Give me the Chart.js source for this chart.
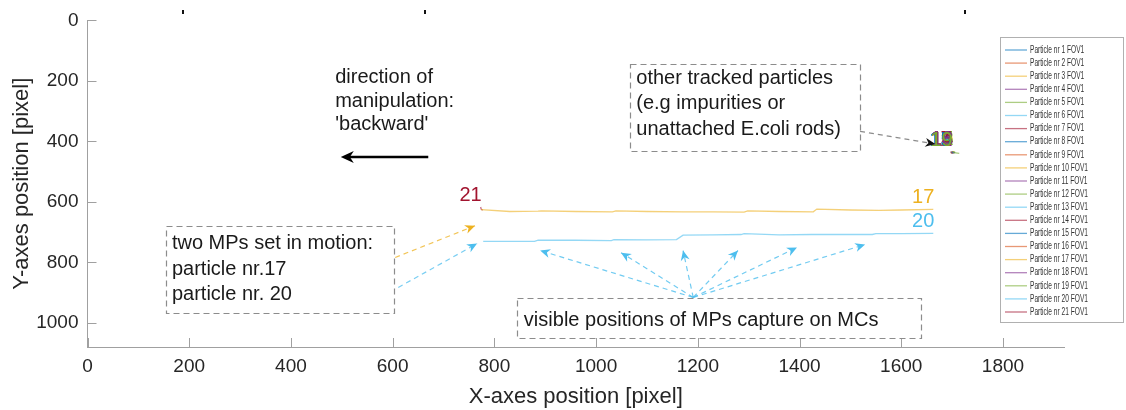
<!DOCTYPE html>
<html>
<head>
  <title>Particle tracks FOV1</title>
  <script src="https://cdn.jsdelivr.net/npm/chart.js"></script>
  <style>
    html, body { margin: 0; padding: 0; background: #fff; }
  </style>
</head>
<body>
<canvas id="myChart" width="1126" height="410"></canvas>
<script>
// tracks, in time order (the MPs move 'backward', i.e. to the left)
var p17X = [1663, 1600, 1556, 1500, 1434, 1427, 1360, 1298, 1291, 1230, 1171, 1100, 1039, 1032, 960, 893, 886, 830, 774];
var p17Y = [625, 627, 628, 627, 624, 633, 632, 630, 634, 633, 633, 632, 630, 633, 632, 630, 631, 632, 626];
var p20X = [1663, 1600, 1550, 1543, 1480, 1424, 1360, 1291, 1285, 1230, 1171, 1158, 1100, 1035, 1030, 960, 886, 879, 830, 778];
var p20Y = [704, 705, 705, 708, 708, 708, 709, 705, 708, 709, 710, 725, 726, 725, 728, 727, 727, 731, 731, 731];
var p21X = [773, 774, 777];
var p21Y = [617, 624, 628];

// other tracked particles (impurities), all near x=1700, y=436
var clusterIds    = [1, 2, 3, 4, 5, 6, 7, 8, 9, 10, 11, 12, 13, 14, 15, 16, 18, 19];
var clusterStartX = [1699, 1697, 1700, 1698, 1701, 1699, 1697, 1700, 1698, 1700, 1699, 1701, 1698, 1700, 1697, 1699, 1700, 1699];
var clusterStartY = [435, 437, 434, 436, 435, 438, 434, 436, 437, 435, 436, 434, 437, 435, 436, 438, 435, 436];
var clusterEndX   = [1703, 1700, 1704, 1702, 1706, 1701, 1700, 1705, 1701, 1703, 1702, 1706, 1700, 1704, 1701, 1703, 1705, 1714];
var clusterEndY   = [437, 438, 436, 438, 437, 439, 436, 438, 439, 437, 438, 436, 439, 437, 438, 440, 437, 440];

// stray marks above the image frame
var strayX = [188, 664, 1726];
var strayY = [-28, -28, -28];

var xTicks = [0, 200, 400, 600, 800, 1000, 1200, 1400, 1600, 1800];
var yTicks = [0, 200, 400, 600, 800, 1000];

var matlabColors = ['#0072BD', '#D95319', '#EDB120', '#7E2F8E', '#77AC30', '#4DBEEE', '#A2142F'];
var FONT = "'Liberation Sans', Arial, sans-serif";

function hexA(hex, a) {
  var n = parseInt(hex.slice(1), 16);
  return 'rgba(' + (n >> 16) + ',' + ((n >> 8) & 255) + ',' + (n & 255) + ',' + a + ')';
}
function pts(xs, ys) {
  return xs.map(function(x, i) { return {x: x, y: ys[i]}; });
}

// build 21 datasets
var datasets = [];
for (var id = 1; id <= 21; id++) {
  var data;
  if (id === 17) data = pts(p17X, p17Y);
  else if (id === 20) data = pts(p20X, p20Y);
  else if (id === 21) data = pts(p21X, p21Y);
  else {
    var k = clusterIds.indexOf(id);
    data = [{x: clusterStartX[k], y: clusterStartY[k]}, {x: clusterEndX[k], y: clusterEndY[k]}];
  }
  var c = matlabColors[(id - 1) % 7];
  datasets.push({
    label: 'Particle nr ' + id + ' FOV1',
    particle: id,
    data: data,
    showLine: true,
    borderColor: hexA(c, 0.6),
    baseColor: c,
    borderWidth: 1.3,
    pointRadius: 0,
    tension: 0
  });
}

// annotations (data coordinates)
var notes = {
  direction: {x: 487, y: 190, lh: 23.5, lines: ['direction of', 'manipulation:', "'backward'"]},
  dirArrow: {x1: 670, x2: 498, y: 452},
  otherBox: {x1: 1067, y1: 143, x2: 1519, y2: 432, tx: 1079, ty: 192, lh: 25.5,
    lines: ['other tracked particles', '(e.g impurities or', 'unattached E.coli rods)']},
  otherArrow: {x1: 1519, y1: 367, x2: 1667, y2: 409},
  motionBox: {x1: 154, y1: 679, x2: 603, y2: 968, tx: 166, ty: 738, lh: 25.5,
    lines: ['two MPs set in motion:', 'particle nr.17', 'particle nr. 20']},
  motionArrows: [
    {x1: 605, y1: 784, x2: 762, y2: 679, color: '#EDB120'},
    {x1: 611, y1: 883, x2: 766, y2: 738, color: '#4DBEEE'}
  ],
  captureBox: {x1: 845, y1: 919, x2: 1639, y2: 1050, tx: 858, ty: 991, lh: 0,
    lines: ['visible positions of MPs capture on MCs']},
  fanFrom: {x: 1191, y: 916},
  fanTo: [[890, 761], [1049, 768], [1171, 761], [1279, 761], [1395, 751], [1529, 741]]
};

function arrowHead(ctx, x1, y1, x2, y2, color, len, half) {
  var ang = Math.atan2(y2 - y1, x2 - x1);
  ctx.save();
  ctx.translate(x2, y2);
  ctx.rotate(ang);
  ctx.setLineDash([]);
  ctx.fillStyle = color;
  ctx.beginPath();
  ctx.moveTo(0, 0);
  ctx.lineTo(-len, -half);
  ctx.lineTo(-len * 0.7, 0);
  ctx.lineTo(-len, half);
  ctx.closePath();
  ctx.fill();
  ctx.restore();
}

function dashedArrow(ctx, x1, y1, x2, y2, lineColor, headColor) {
  ctx.save();
  ctx.strokeStyle = lineColor;
  ctx.lineWidth = 1.2;
  ctx.setLineDash([5, 4]);
  ctx.beginPath();
  ctx.moveTo(x1, y1);
  ctx.lineTo(x2, y2);
  ctx.stroke();
  ctx.restore();
  arrowHead(ctx, x1, y1, x2, y2, headColor, 10, 4.5);
}

var overlay = {
  id: 'overlay',
  afterDraw: function(chart) {
    var ctx = chart.ctx, xs = chart.scales.x, ys = chart.scales.y, a = chart.chartArea;
    var X = function(v) { return xs.getPixelForValue(v); };
    var Y = function(v) { return ys.getPixelForValue(v); };
    ctx.save();

    // inward tick marks
    ctx.strokeStyle = '#a0a0a0';
    ctx.lineWidth = 1;
    ctx.beginPath();
    xs.ticks.forEach(function(t) {
      var x = Math.round(X(t.value)) + 0.5;
      ctx.moveTo(x, a.bottom); ctx.lineTo(x, a.bottom - 9);
    });
    ys.ticks.forEach(function(t) {
      var y = Math.round(Y(t.value)) + 0.5;
      ctx.moveTo(a.left, y); ctx.lineTo(a.left + 9, y);
    });
    ctx.stroke();

    // stray marks
    ctx.fillStyle = '#111';
    strayX.forEach(function(v, i) {
      ctx.fillRect(Math.round(X(v)) - 1, Math.round(Y(strayY[i])) - 2, 2, 4);
    });

    // particle numbers at first point of each track
    ctx.font = '20px ' + FONT;
    ctx.textAlign = 'right';
    ctx.textBaseline = 'middle';
    chart.data.datasets.forEach(function(ds) {
      var p = ds.data[0];
      ctx.fillStyle = ds.baseColor;
      ctx.fillText(String(ds.particle), X(p.x) + 1, Y(p.y) - 12);
    });

    // text annotations
    ctx.fillStyle = '#1a1a1a';
    ctx.textAlign = 'left';
    ctx.font = '20px ' + FONT;
    var d = notes.direction;
    d.lines.forEach(function(s, i) { ctx.fillText(s, X(d.x), Y(d.y) + i * d.lh); });

    // direction arrow
    var da = notes.dirArrow;
    ctx.strokeStyle = '#000';
    ctx.lineWidth = 2.5;
    ctx.beginPath();
    ctx.moveTo(X(da.x1), Y(da.y));
    ctx.lineTo(X(da.x2) + 6, Y(da.y));
    ctx.stroke();
    arrowHead(ctx, X(da.x1), Y(da.y), X(da.x2), Y(da.y), '#000', 13, 6);

    // dashed boxes
    [notes.otherBox, notes.motionBox, notes.captureBox].forEach(function(b) {
      ctx.save();
      ctx.strokeStyle = '#8c8c8c';
      ctx.lineWidth = 1.2;
      ctx.setLineDash([6, 4]);
      ctx.strokeRect(Math.round(X(b.x1)) + 0.5, Math.round(Y(b.y1)) + 0.5,
        Math.round(X(b.x2) - X(b.x1)), Math.round(Y(b.y2) - Y(b.y1)));
      ctx.restore();
      ctx.fillStyle = '#1a1a1a';
      b.lines.forEach(function(s, i) { ctx.fillText(s, X(b.tx), Y(b.ty) + i * b.lh); });
    });

    // dashed arrows
    var oa = notes.otherArrow;
    dashedArrow(ctx, X(oa.x1), Y(oa.y1), X(oa.x2), Y(oa.y2), '#8c8c8c', '#111');
    notes.motionArrows.forEach(function(m) {
      dashedArrow(ctx, X(m.x1), Y(m.y1), X(m.x2), Y(m.y2), hexA(m.color, 0.75), m.color);
    });
    notes.fanTo.forEach(function(t) {
      dashedArrow(ctx, X(notes.fanFrom.x), Y(notes.fanFrom.y), X(t[0]), Y(t[1]), hexA('#4DBEEE', 0.8), '#4DBEEE');
    });

    // legend box
    var lx = 1000, ly = 37.5, lw = 123, lh = 285;
    ctx.fillStyle = '#fff';
    ctx.fillRect(lx, ly, lw, lh);
    ctx.strokeStyle = '#b0b0b0';
    ctx.lineWidth = 1;
    ctx.strokeRect(lx + 0.5, ly, lw, lh);
    ctx.font = '10px ' + FONT;
    ctx.textBaseline = 'middle';
    chart.data.datasets.forEach(function(ds, i) {
      var y = 50 + i * 13.1;
      ctx.strokeStyle = ds.borderColor;
      ctx.lineWidth = 1.3;
      ctx.beginPath();
      ctx.moveTo(1005, y); ctx.lineTo(1027, y);
      ctx.stroke();
      ctx.save();
      ctx.translate(1030, y);
      ctx.scale(0.66, 1);
      ctx.fillStyle = '#333';
      ctx.fillText(ds.label, 0, 0);
      ctx.restore();
    });

    ctx.restore();
  }
};

function plainTick(v) { return String(v); }

var ctx = document.getElementById('myChart').getContext('2d');
var myChart = new Chart(ctx, {
  type: 'scatter',
  data: {datasets: datasets},
  options: {
    responsive: false,
    animation: false,
    layout: {padding: {left: 0, top: 18.5, right: 62, bottom: 0}},
    plugins: {legend: {display: false}, tooltip: {enabled: false}},
    scales: {
      x: {
        type: 'linear',
        min: 0,
        max: 1920,
        afterBuildTicks: function(s) { s.ticks = xTicks.map(function(v) { return {value: v}; }); },
        afterFit: function(s) { s.height = 63; },
        grid: {display: false, drawTicks: false},
        border: {display: true, color: '#a0a0a0', width: 1},
        ticks: {color: '#262626', font: {family: FONT, size: 19}, padding: 8.6, maxRotation: 0, callback: plainTick},
        title: {display: true, text: 'X-axes position [pixel]', color: '#262626',
          font: {family: FONT, size: 22}, padding: {top: 0, bottom: 0}}
      },
      y: {
        type: 'linear',
        reverse: true,
        min: 0,
        max: 1080,
        afterBuildTicks: function(s) { s.ticks = yTicks.map(function(v) { return {value: v}; }); },
        afterFit: function(s) { s.width = 87.5; },
        grid: {display: false, drawTicks: false},
        border: {display: true, color: '#a0a0a0', width: 1},
        ticks: {color: '#262626', font: {family: FONT, size: 19}, padding: 9, callback: plainTick},
        title: {display: true, text: 'Y-axes position [pixel]', color: '#262626',
          font: {family: FONT, size: 22}, padding: {top: 9, bottom: 0}}
      }
    }
  },
  plugins: [overlay]
});
</script>
</body>
</html>
